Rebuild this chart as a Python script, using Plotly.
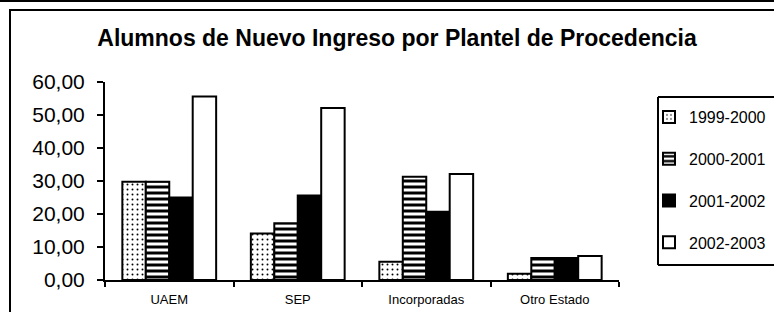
import plotly.graph_objects as go

categories = ["UAEM", "SEP", "Incorporadas", "Otro Estado"]
series_names = ["1999-2000", "2000-2001", "2001-2002", "2002-2003"]
v1999 = [29.8, 14.1, 5.5, 1.9]
v2000 = [29.8, 17.2, 31.3, 6.7]
v2001 = [25.0, 25.6, 20.7, 6.7]
v2002 = [55.6, 52.1, 32.1, 7.3]
y_ticks = [0, 10, 20, 30, 40, 50, 60]

W, H = 774, 312
L, R, T, B = 105, 155, 82, 32
PW, PH = W - L - R, H - T - B

def px(x):
    return (x - L) / PW

def py(y):
    return (H - B - y) / PH

FONT = "Liberation Sans, Arial, sans-serif"

styles = [
    dict(color="white", pattern=dict(shape=".", fgcolor="black", bgcolor="white", size=5, solidity=0.12)),
    dict(color="white", pattern=dict(shape="-", fgcolor="black", bgcolor="white", size=6, solidity=0.5)),
    dict(color="black"),
    dict(color="white"),
]

fig = go.Figure()
for i, (name, vals) in enumerate(zip(series_names, [v1999, v2000, v2001, v2002])):
    m = dict(line=dict(color="black", width=2))
    m.update(styles[i])
    fig.add_trace(go.Bar(x=categories, y=vals, name=name, marker=m,
                         legendgroup=name, hoverinfo="skip"))

shapes = [
    # outer top line
    dict(type="line", xref="paper", yref="paper", x0=px(0), x1=px(W + 100), y0=py(1), y1=py(1),
         line=dict(color="black", width=2)),
    # chart frame (extends past the right and bottom edges)
    dict(type="path", xref="paper", yref="paper",
         path=f"M {px(W + 100)},{py(10)} L {px(10)},{py(10)} L {px(10)},{py(H + 50)}",
         line=dict(color="black", width=2)),
    # legend box: top, left and bottom sides (right side lies beyond the edge)
    dict(type="line", xref="paper", yref="paper", x0=px(658), x1=px(W + 100), y0=py(97), y1=py(97),
         line=dict(color="black", width=2)),
    dict(type="line", xref="paper", yref="paper", x0=px(658), x1=px(658), y0=py(97), y1=py(265),
         line=dict(color="black", width=2)),
    dict(type="line", xref="paper", yref="paper", x0=px(658), x1=px(W + 100), y0=py(265), y1=py(265),
         line=dict(color="black", width=2)),
]

fig.update_layout(
    template="none",
    width=W, height=H,
    margin=dict(l=L, r=R, t=T, b=B, pad=0, autoexpand=False),
    paper_bgcolor="white", plot_bgcolor="white",
    separators=",.",
    barmode="group", bargap=0.27, bargroupgap=0,
    font=dict(family=FONT, color="black"),
    title=dict(text="<b>Alumnos de Nuevo Ingreso por Plantel de Procedencia</b>",
               x=397 / W, xref="container", xanchor="center",
               y=1 - 38 / H, yref="container", yanchor="middle",
               font=dict(family=FONT, size=23, color="black")),
    xaxis=dict(showline=True, linecolor="black", linewidth=2, ticks="outside",
               tickson="boundaries", ticklen=5, tickwidth=2, tickcolor="black",
               tickfont=dict(size=13, family=FONT), showgrid=False, zeroline=False,
               fixedrange=True, ticklabelstandoff=6, automargin=False),
    yaxis=dict(range=[0, 60], tickvals=y_ticks, tickformat=".2f", showline=True,
               linecolor="black", linewidth=2, ticks="outside", ticklen=6, tickwidth=2,
               tickcolor="black", tickfont=dict(size=21, family=FONT), showgrid=False,
               zeroline=False, fixedrange=True, ticklabelstandoff=8, automargin=False),
    legend=dict(x=(649 - L) / PW, y=py(100), xref="paper", yref="paper",
                xanchor="left", yanchor="top", bgcolor="rgba(0,0,0,0)", borderwidth=0,
                bordercolor="rgba(0,0,0,0)",
                font=dict(size=16, family=FONT), tracegroupgap=18,
                traceorder="grouped", itemwidth=30),
    shapes=shapes,
)

fig.write_html("out.html", config={"displayModeBar": False},
               post_script="document.body.style.margin='0';document.body.style.overflow='hidden';")
